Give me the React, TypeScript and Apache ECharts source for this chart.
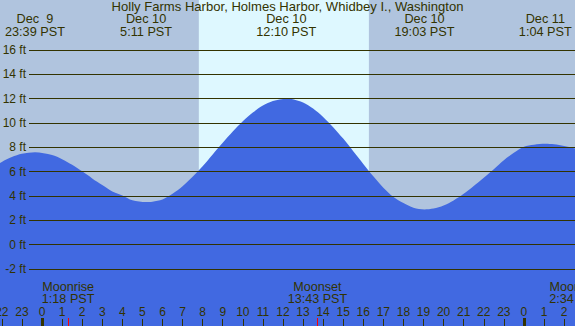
import React, { useEffect, useRef } from "react";
import * as echarts from "echarts";

const chartTitle = "Holly Farms Harbor, Holmes Harbor, Whidbey I., Washington";

// hours from Dec 10 00:00 PST, tide height in feet
const tideHours = [-3, -2.5, -2, -1.5, -1, -0.35, 0.5, 1, 1.5, 2, 2.5, 3, 3.5, 4, 4.5, 5.18, 5.5, 6, 6.5, 7, 7.5, 8, 8.5, 9, 9.5, 10, 10.5, 11, 11.5, 12.17, 12.5, 13, 13.5, 14, 14.5, 15, 15.5, 16, 16.5, 17, 17.5, 18, 18.5, 19.05, 19.5, 20, 20.5, 21, 21.5, 22, 22.5, 23, 23.5, 24, 24.5, 25.07, 25.5, 26, 26.5, 27];
const tideFeet = [5.67, 6.28, 6.8, 7.2, 7.47, 7.6, 7.37, 7.03, 6.57, 6.03, 5.45, 4.9, 4.37, 4.05, 3.65, 3.5, 3.54, 3.72, 4.18, 4.8, 5.58, 6.45, 7.42, 8.38, 9.3, 10.14, 10.86, 11.43, 11.81, 12.0, 11.95, 11.68, 11.19, 10.5, 9.66, 8.72, 7.68, 6.64, 5.62, 4.68, 3.92, 3.42, 3.04, 2.9, 2.97, 3.22, 3.64, 4.18, 4.83, 5.51, 6.21, 6.95, 7.55, 8.05, 8.22, 8.3, 8.26, 8.12, 7.93, 7.65];

const extremeHours = [-0.35, 5.183, 12.167, 19.05, 25.067];
const extremeDates = ["Dec  9", "Dec 10", "Dec 10", "Dec 10", "Dec 11"];
const extremeTimes = ["23:39 PST", "5:11 PST", "12:10 PST", "19:03 PST", "1:04 PST"];

const moonHours = [1.3, 13.717, 26.567];
const moonEvents = ["Moonrise", "Moonset", "Moonrise"];
const moonTimes = ["1:18 PST", "13:43 PST", "2:34 PST"];

const daylightHours = [7.81, 16.28];

const hourTicks = [-2, -1, 0, 1, 2, 3, 4, 5, 6, 7, 8, 9, 10, 11, 12, 13, 14, 15, 16, 17, 18, 19, 20, 21, 22, 23, 24, 25, 26];
const midnightTicks = [0, 24];

const X_MIN = -2.092;
const X_MAX = 26.544;
const Y_MIN = -6.68;
const Y_MAX = 20.11;

const ink = "#333300";
const font = "Liberation Sans";
const fs = 12;

export default function App() {
  const ref = useRef<HTMLDivElement>(null);

  useEffect(() => {
    document.body.style.margin = "0";
    document.body.style.overflow = "hidden";
    const chart = echarts.init(ref.current!, null, { renderer: "svg", width: 575, height: 326 });

    const hiddenX = { axisLine: { show: false, onZero: false }, axisLabel: { show: false }, splitLine: { show: false } };

    chart.setOption({
      animation: false,
      backgroundColor: "#b0c4de",
      grid: [
        { left: 0, right: 0, top: 0, bottom: 0, containLabel: false, outerBoundsMode: "none" },
        { left: 29, right: 0, top: 50, bottom: 57, containLabel: false, outerBoundsMode: "none" },
      ],
      xAxis: [
        {
          gridIndex: 0,
          type: "value",
          min: X_MIN,
          max: X_MAX,
          position: "bottom",
          axisLine: { show: false, onZero: false },
          splitLine: { show: false },
          axisTick: { show: true, inside: true, length: 7, customValues: hourTicks, lineStyle: { color: ink, width: 1 } },
          axisLabel: {
            show: true,
            inside: true,
            margin: 8,
            customValues: hourTicks,
            hideOverlap: false,
            formatter: (v: number) => String(((v % 24) + 24) % 24),
            fontSize: fs,
            fontFamily: font,
            color: ink,
          },
          z: 10,
        },
        {
          gridIndex: 0,
          type: "value",
          min: X_MIN,
          max: X_MAX,
          position: "bottom",
          ...hiddenX,
          axisTick: { show: true, inside: true, length: 8, customValues: midnightTicks, lineStyle: { color: ink, width: 3 } },
          z: 11,
        },
        {
          gridIndex: 0,
          type: "value",
          min: X_MIN,
          max: X_MAX,
          position: "bottom",
          ...hiddenX,
          axisTick: { show: true, inside: true, length: 8, customValues: moonHours, lineStyle: { color: "#ff0000", width: 1 } },
          z: 12,
        },
        { gridIndex: 1, type: "value", min: 0, max: 1, show: false },
      ],
      yAxis: [
        { gridIndex: 0, type: "value", min: Y_MIN, max: Y_MAX, show: false },
        {
          gridIndex: 1,
          type: "value",
          min: -2,
          max: 16,
          interval: 2,
          axisLine: { show: false },
          axisTick: { show: false },
          axisLabel: { formatter: "{value} ft", margin: 3, fontSize: fs, fontFamily: font, color: ink },
          splitLine: { show: true, lineStyle: { color: ink, width: 1 } },
          z: 10,
        },
      ],
      series: [
        {
          type: "line",
          xAxisIndex: 0,
          yAxisIndex: 0,
          data: tideHours.map((h, i) => [h, tideFeet[i]]),
          smooth: 0.3,
          symbol: "none",
          lineStyle: { width: 0, opacity: 0 },
          areaStyle: { color: "#4169e1", opacity: 1, origin: "start" },
          z: 2,
          markArea: {
            silent: true,
            itemStyle: { color: "#def8ff" },
            data: [[{ xAxis: daylightHours[0] }, { xAxis: daylightHours[1] }]],
          },
        },
      ],
    });

    const px = (h: number) => chart.convertToPixel({ xAxisIndex: 0 }, h) as number;
    const label = (text: string, x: number, y: number, sx: number) => ({
      type: "text",
      x,
      y,
      scaleX: sx,
      z: 20,
      style: { text, fontSize: fs, fontFamily: font, fill: ink, align: "center", verticalAlign: "middle", lineHeight: 12 },
    });

    chart.setOption({
      graphic: [
        label(chartTitle, 287.5, 7.2, 1.09),
        ...extremeHours.map((h, i) => label(extremeDates[i], px(h), 19.6, 1.06)),
        ...extremeHours.map((h, i) => label(extremeTimes[i], px(h), 31.8, 1.06)),
        ...moonHours.map((h, i) => label(moonEvents[i], px(h), 287.4, 1.05)),
        ...moonHours.map((h, i) => label(moonTimes[i], px(h), 299.5, 1.05)),
      ],
    });

    return () => chart.dispose();
  }, []);

  return <div ref={ref} style={{ width: 575, height: 326 }} />;
}
